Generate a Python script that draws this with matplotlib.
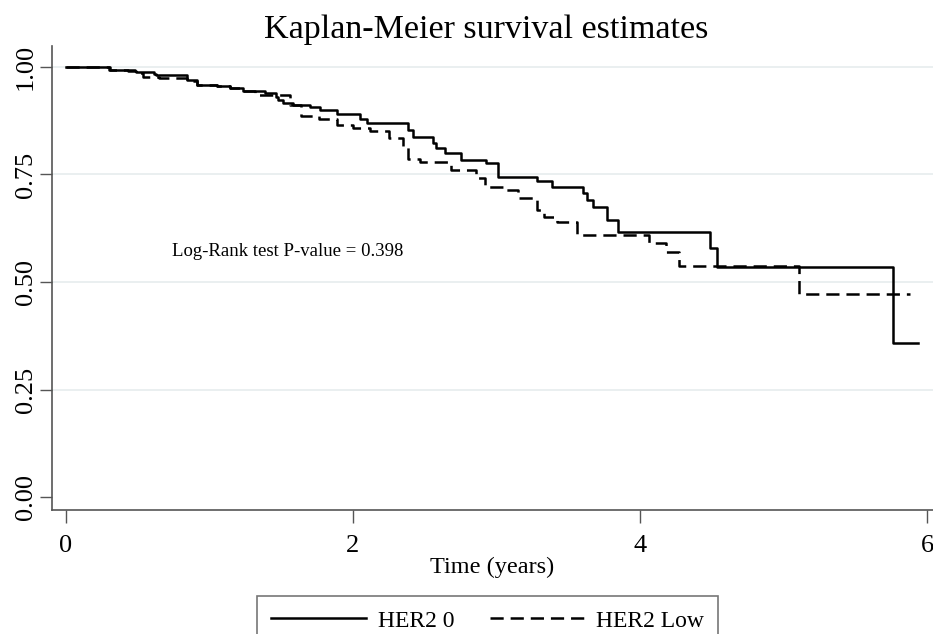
import matplotlib
matplotlib.use("Agg")
import matplotlib.pyplot as plt
from matplotlib.lines import Line2D

plt.rcParams['font.family'] = ['Liberation Serif', 'DejaVu Serif']
plt.rcParams['lines.scale_dashes'] = False

# HER2 0 (solid) step points
t_her2_0 = [0.00, 0.31, 0.43, 0.49, 0.61, 0.63, 0.84, 0.91, 1.05, 1.14, 1.23, 1.39,
            1.46, 1.48, 1.51, 1.58, 1.70, 1.77, 1.89, 2.05, 2.10, 2.38, 2.42, 2.56,
            2.58, 2.64, 2.75, 2.93, 3.01, 3.28, 3.39, 3.60, 3.63, 3.67, 3.77, 3.85,
            4.49, 4.54, 5.76, 5.94]
s_her2_0 = [1.000, 0.994, 0.991, 0.989, 0.984, 0.981, 0.970, 0.958, 0.955, 0.950, 0.944, 0.940,
            0.930, 0.923, 0.916, 0.912, 0.907, 0.900, 0.890, 0.879, 0.870, 0.853, 0.837, 0.823,
            0.812, 0.800, 0.783, 0.777, 0.744, 0.735, 0.720, 0.707, 0.690, 0.675, 0.645, 0.616,
            0.579, 0.535, 0.358, 0.358]

# HER2 Low (dashed) step points
t_her2_low = [0.00, 0.30, 0.48, 0.54, 0.65, 0.84, 0.91, 1.05, 1.14, 1.23, 1.32, 1.56,
              1.64, 1.76, 1.89, 2.00, 2.12, 2.25, 2.35, 2.38, 2.47, 2.68, 2.86, 2.92,
              3.05, 3.15, 3.28, 3.33, 3.42, 3.56, 4.06, 4.18, 4.27, 5.11, 5.88]
s_her2_low = [1.000, 0.994, 0.986, 0.977, 0.974, 0.968, 0.958, 0.955, 0.950, 0.944, 0.935, 0.912,
              0.886, 0.879, 0.865, 0.858, 0.850, 0.835, 0.814, 0.785, 0.780, 0.760, 0.741, 0.722,
              0.714, 0.695, 0.667, 0.652, 0.640, 0.609, 0.590, 0.570, 0.538, 0.472, 0.472]

x_ticks = [0, 2, 4, 6]
y_ticks = [0.00, 0.25, 0.50, 0.75, 1.00]
y_ticklabels = ["0.00", "0.25", "0.50", "0.75", "1.00"]
legend_labels = ["HER2 0", "HER2 Low"]
title = "Kaplan-Meier survival estimates"
x_label = "Time (years)"
p_text = "Log-Rank test P-value = 0.398"

W, H = 933, 634
fig = plt.figure(figsize=(W / 100, H / 100), dpi=100)
ax = fig.add_axes([52 / W, 1 - 510 / H, 1 - 52 / W, (510 - 46) / H])

spine_col = "#555555"
lw = 1.8
dash = (0, (9.5, 5.0))

for y in [0.25, 0.50, 0.75, 1.00]:
    ax.axhline(y, color="#e6ecee", lw=1.2, zorder=0)

ax.step(t_her2_0, s_her2_0, where="post", color="black", lw=lw, zorder=3)
ax.step(t_her2_low, s_her2_low, where="post", color="black", lw=lw, linestyle=dash, zorder=3)

ax.set_xlim(-0.0976, 6.042)
ax.set_ylim(-0.0302, 1.0488)

ax.set_xticks(x_ticks)
ax.set_xticklabels([str(v) for v in x_ticks], fontsize=19)
ax.set_yticks(y_ticks)
ax.set_yticklabels(y_ticklabels, fontsize=19, rotation=90, va="center")
ax.tick_params(axis="both", direction="out", length=9, width=1.0, color=spine_col)
ax.tick_params(axis="x", pad=9)
ax.tick_params(axis="y", pad=2)

for side in ["top", "right"]:
    ax.spines[side].set_visible(False)
for side in ["left", "bottom"]:
    ax.spines[side].set_color(spine_col)
    ax.spines[side].set_linewidth(1.2)

ax.set_xlabel(x_label, fontsize=17.5, labelpad=0)
fig.text(486.5 / W, 1 - 30 / H, title, fontsize=24.5, ha="center", va="center")
ax.text(0.74, 0.57, p_text, fontsize=13.5, ha="left", va="center")

handles = [Line2D([], [], color="black", lw=lw),
           Line2D([], [], color="black", lw=lw, linestyle=dash)]
leg = fig.legend(handles, legend_labels, loc="upper center",
                 bbox_to_anchor=(487.5 / W, 1 - 596 / H), ncol=2, fontsize=17,
                 handlelength=4.0, handletextpad=0.5, columnspacing=1.5,
                 frameon=True, fancybox=False, borderpad=0.6, borderaxespad=0)
leg.get_frame().set_edgecolor(spine_col)
leg.get_frame().set_linewidth(1.2)

fig.savefig("out.png", dpi=100)
